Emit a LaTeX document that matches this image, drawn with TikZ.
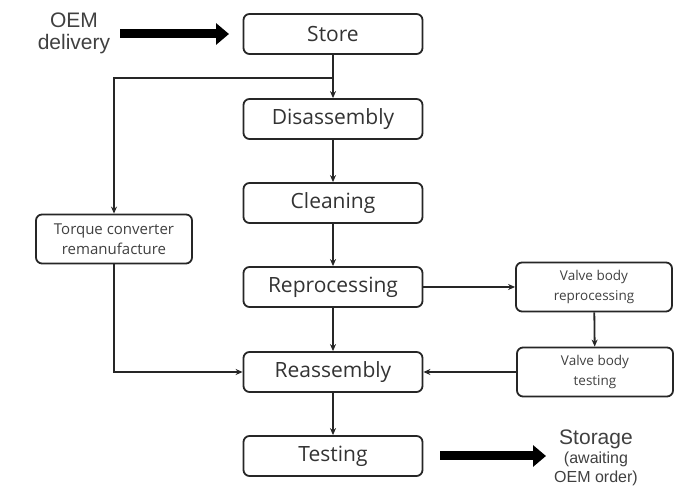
\documentclass[tikz,border=0pt]{standalone}
\usepackage{fontspec}
\setmainfont{Open Sans}
\newfontfamily\arialfont{Liberation Sans}
\usetikzlibrary{arrows.meta}

\tikzset{
  stage/.style={draw=black!85, line width=1.8pt, rounded corners=6pt,
    minimum width=179pt, minimum height=40pt, font=\fontsize{21}{24}\selectfont, text=black!80},
  subst/.style={draw=black!85, line width=1.8pt, rounded corners=6pt,
    minimum width=156pt, minimum height=49pt, align=center, text=black!75},
  flow/.style={draw=black!85, line width=1.8pt, -{Stealth[length=7pt,width=6pt]}},
  bigarrow/.style={line width=9pt, -{Triangle[length=13pt,width=21pt]}},
  side/.style={align=center, text=black!75, inner sep=0pt}
}

\begin{document}
\begin{tikzpicture}[x=1pt,y=1pt]
  \useasboundingbox (0,0) rectangle (680,486);
  % main line
  \node[stage] (store) at (333,452) {Store};
  \node[stage] (disasm) at (333,367) {Disassembly};
  \node[stage] (clean) at (333,283) {Cleaning};
  \node[stage] (reproc) at (333,199) {Reprocessing};
  \node[stage] (reasm) at (333,114) {Reassembly};
  \node[stage] (test) at (333,30) {Testing};
  % side branches
  \node[subst, font=\fontsize{15}{20}\selectfont] (torque) at (114,247) {Torque converter\\remanufacture};
  \node[subst, font=\fontsize{13.5}{20}\selectfont] (vbrep) at (594,199) {Valve body\\reprocessing};
  \node[subst, font=\fontsize{13.5}{20}\selectfont] (vbtest) at (595,114) {Valve body\\testing};
  % in and out
  \node[side, font=\arialfont\fontsize{21}{22}\selectfont] (oem) at (74,453) {OEM\\delivery};
  \node[side, anchor=north, font=\arialfont\fontsize{21}{19}\selectfont] (storage) at (596,56)
    {Storage\\{\fontsize{16}{16}\selectfont(awaiting}\\{\fontsize{16}{16}\selectfont OEM order)}};
  \coordinate (fork) at (333,408);

  \draw[bigarrow] (120,452) -- (229,452);
  \draw[bigarrow] (440,30) -- (546,30);

  \draw[flow] (store) -- (disasm);
  \draw[flow] (fork) -| (torque.north);
  \draw[flow] (disasm) -- (clean);
  \draw[flow] (clean) -- (reproc);
  \draw[flow] (reproc) -- (reasm);
  \draw[flow] (reasm) -- (test);
  \draw[flow] (torque.south) |- (reasm.west);
  \draw[flow] (reproc.east) -- (vbrep.west);
  \draw[flow] (vbrep) -- (vbtest);
  \draw[flow] (vbtest.west) -- (reasm.east);
\end{tikzpicture}
\end{document}
